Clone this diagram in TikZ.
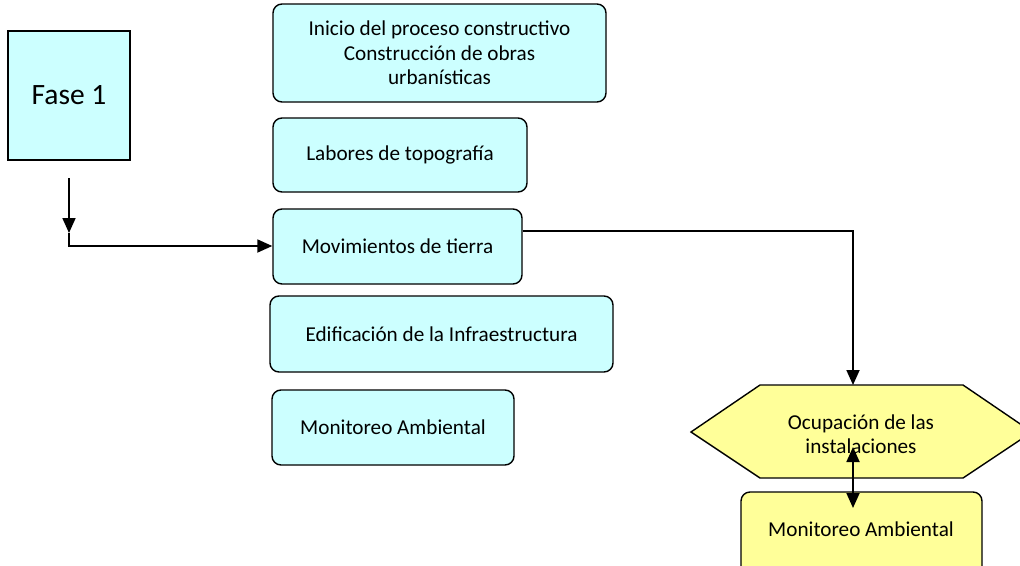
\documentclass[tikz,border=0pt]{standalone}
\usepackage{fontspec}
\setmainfont{Carlito}
\usetikzlibrary{arrows.meta}
\definecolor{cyanfill}{HTML}{CCFFFF}
\definecolor{yelfill}{HTML}{FFFF99}
\begin{document}
\begin{tikzpicture}[x=1pt,y=-1pt,
  txt/.style={font=\fontsize{21.2}{24.5}\selectfont, align=center},
  cbox/.style={draw=black, line width=1.4pt, fill=cyanfill, rounded corners=9pt, txt, inner sep=0pt},
  ybox/.style={draw=black, line width=1.4pt, fill=yelfill, rounded corners=9pt},
  conn/.style={line width=1.8pt, draw=black},
  tip/.style={-{Triangle[length=15pt,width=13pt]}}
]
\useasboundingbox (0,0) rectangle (1020,565);
\clip (0,0) rectangle (1020,565);
% Fase 1
\node[draw=black, line width=1.2pt, fill=cyanfill, minimum width=122pt, minimum height=129pt, inner sep=0pt,
  font=\fontsize{29.5}{34}\selectfont] (fase) at (69,95.5) {Fase 1};
% cyan boxes
\node[cbox, minimum width=333pt, minimum height=98pt] (b1) at (439.5,53) {Inicio del proceso constructivo\\Construcción de obras\\urbanísticas};
\node[cbox, minimum width=254pt, minimum height=74pt] (b2) at (400,155) {Labores de topografía};
\node[cbox, minimum width=249pt, minimum height=75pt] (b3) at (397.5,246.5) {Movimientos de tierra};
\node[cbox, minimum width=343pt, minimum height=76pt] (b4) at (441.5,334) {Edificación de la Infraestructura};
\node[cbox, minimum width=242pt, minimum height=75pt] (b5) at (393,427.5) {Monitoreo Ambiental};
% hexagon
\coordinate (hl) at (691,432);
\coordinate (htl) at (760,385);
\coordinate (htr) at (963,385);
\coordinate (hr) at (1032,432);
\coordinate (hbr) at (963,478);
\coordinate (hbl) at (760,478);
\coordinate (htop) at (853,385);
\draw[line width=1.4pt, fill=yelfill] (hl) -- (htl) -- (htr) -- (hr) -- (hbr) -- (hbl) -- cycle;
\node[txt] (hex) at (861,434) {Ocupación de las\\instalaciones};
% bottom yellow box
\draw[ybox] (741,492) rectangle (982,590);
\node[txt] (b6) at (861,529) {Monitoreo Ambiental};
\coordinate (b6top) at (853,508);
\coordinate (hexin) at (853,447);
% connectors
\coordinate (s) at (69,178);
\coordinate (m) at (69,233);
\coordinate (c) at (69,246);
\draw[conn, tip] (s) -- (m);
\draw[conn, tip] (m) -- (c) -- (b3.west |- c);
\coordinate (r1) at (b3.east |- 0,231);
\coordinate (r2) at (853,231);
\draw[conn, tip] (r1) -- (r2) -- (htop);
\draw[conn, {Triangle[length=15pt,width=13pt]}-{Triangle[length=15pt,width=13pt]}] (hexin) -- (b6top);
\end{tikzpicture}
\end{document}
